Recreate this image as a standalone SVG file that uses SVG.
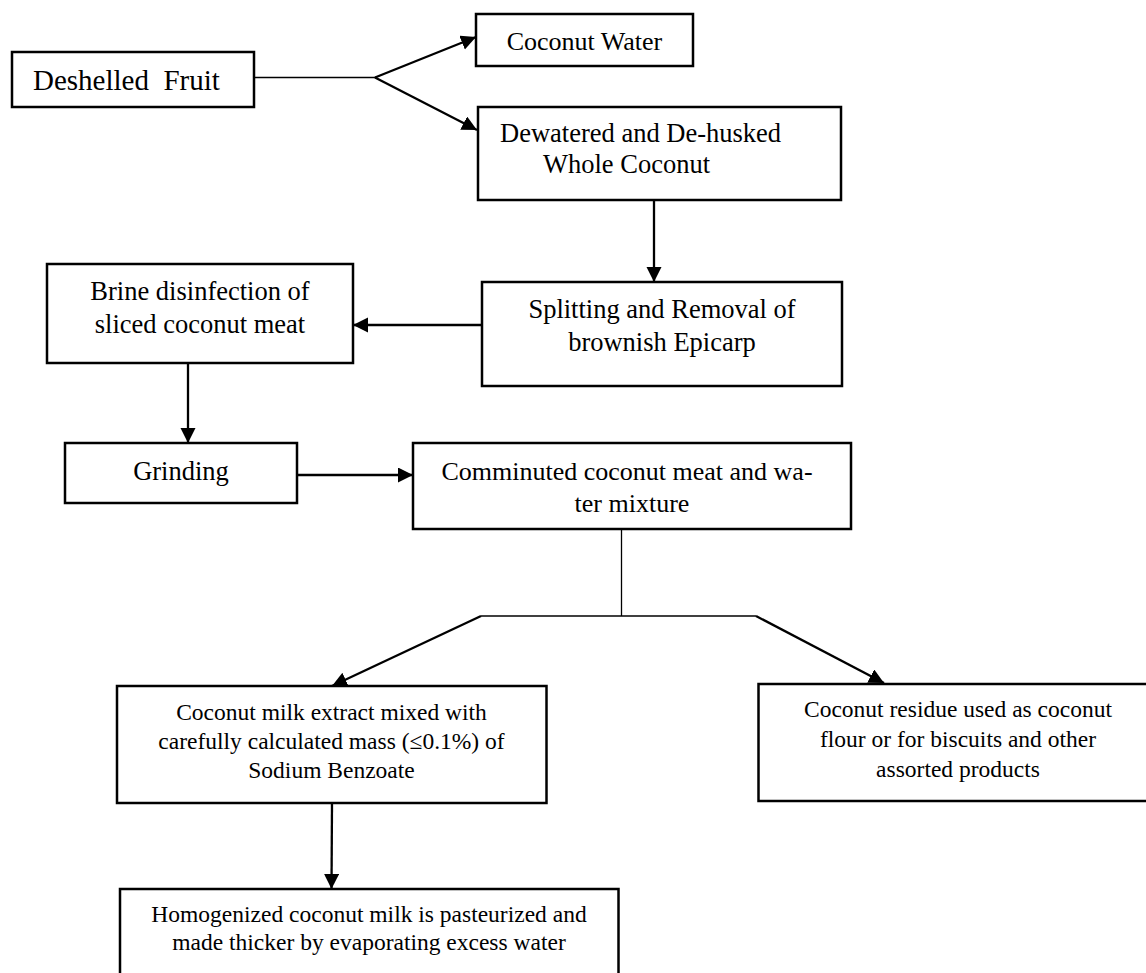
<svg xmlns="http://www.w3.org/2000/svg" width="1146" height="973" viewBox="0 0 1146 973">
<defs>
<marker id="ah" markerUnits="userSpaceOnUse" markerWidth="16" markerHeight="16" refX="15" refY="7.5" orient="auto">
<path d="M0,0 L15,7.5 L0,15 z" fill="#000"/>
</marker>
<style>
.box{fill:#fff;stroke:#000;stroke-width:2.5}
.t{font-family:"Liberation Serif","Times New Roman",serif;fill:#000}
.m{font-size:26.5px}
.s{font-size:23.5px}
.c{text-anchor:middle}
.thin{stroke:#000;stroke-width:1.3;fill:none}
.arr{stroke:#000;stroke-width:2.3;fill:none;marker-end:url(#ah)}
</style>
</defs>
<rect width="1146" height="973" fill="#fff"/>

<g id="connectors">
<polyline class="thin" points="254,77.5 375,77.5"/>
<line class="arr" x1="375" y1="77.5" x2="476" y2="37"/>
<line class="arr" x1="375" y1="77.5" x2="477" y2="130"/>
<line class="arr" x1="654" y1="200" x2="654" y2="282"/>
<line class="arr" x1="482" y1="325" x2="353" y2="325"/>
<line class="arr" x1="188" y1="363" x2="188" y2="443"/>
<line class="arr" x1="297" y1="475" x2="413" y2="475"/>
<line class="thin" x1="621.5" y1="529" x2="621.5" y2="616"/>
<line class="thin" x1="481" y1="616" x2="756" y2="616"/>
<line class="arr" x1="481" y1="616" x2="332" y2="686"/>
<line class="arr" x1="756" y1="616" x2="884" y2="683"/>
<line class="arr" x1="332" y1="803" x2="331.5" y2="889"/>
</g>

<g id="deshelled">
<rect class="box" x="12" y="52" width="242" height="55"/>
<text class="t" x="33" y="90" font-size="29px" xml:space="preserve">Deshelled  Fruit</text>
</g>

<g id="coconut-water">
<rect class="box" x="476" y="14" width="217" height="52"/>
<text class="t c" x="584.5" y="50" font-size="26px">Coconut Water</text>
</g>

<g id="dewatered">
<rect class="box" x="478" y="107" width="363" height="93"/>
<text class="t m" x="500" y="141.5">Dewatered and De-husked</text>
<text class="t m" x="543" y="172.5">Whole Coconut</text>
</g>

<g id="splitting">
<rect class="box" x="482" y="282" width="360" height="104"/>
<text class="t m c" x="662" y="318">Splitting and Removal of</text>
<text class="t m c" x="662" y="350.5">brownish Epicarp</text>
</g>

<g id="brine">
<rect class="box" x="47" y="264" width="306" height="99"/>
<text class="t m c" x="200" y="300">Brine disinfection of</text>
<text class="t m c" x="200" y="333">sliced coconut meat</text>
</g>

<g id="grinding">
<rect class="box" x="65" y="443" width="232" height="60"/>
<text class="t m c" x="181" y="480">Grinding</text>
</g>

<g id="comminuted">
<rect class="box" x="413" y="443" width="438" height="86"/>
<text class="t c" x="627" y="480" font-size="26px">Comminuted coconut meat and wa-</text>
<text class="t c" x="632" y="512" font-size="26px">ter mixture</text>
</g>

<g id="milk-extract">
<rect class="box" x="117" y="686" width="429.5" height="117"/>
<text class="t s c" x="331.5" y="720">Coconut milk extract mixed with</text>
<text class="t s c" x="331.5" y="749">carefully calculated mass (≤0.1%) of</text>
<text class="t s c" x="331.5" y="778">Sodium Benzoate</text>
</g>

<g id="residue">
<rect class="box" x="758.5" y="684" width="410" height="117"/>
<text class="t s c" x="958" y="717">Coconut residue used as coconut</text>
<text class="t s c" x="958" y="747">flour or for biscuits and other</text>
<text class="t s c" x="958" y="777">assorted products</text>
</g>

<g id="homogenized">
<rect class="box" x="120" y="889" width="498.5" height="100"/>
<text class="t s c" x="369" y="922">Homogenized coconut milk is pasteurized and</text>
<text class="t s c" x="369" y="950">made thicker by evaporating excess water</text>
</g>
</svg>
